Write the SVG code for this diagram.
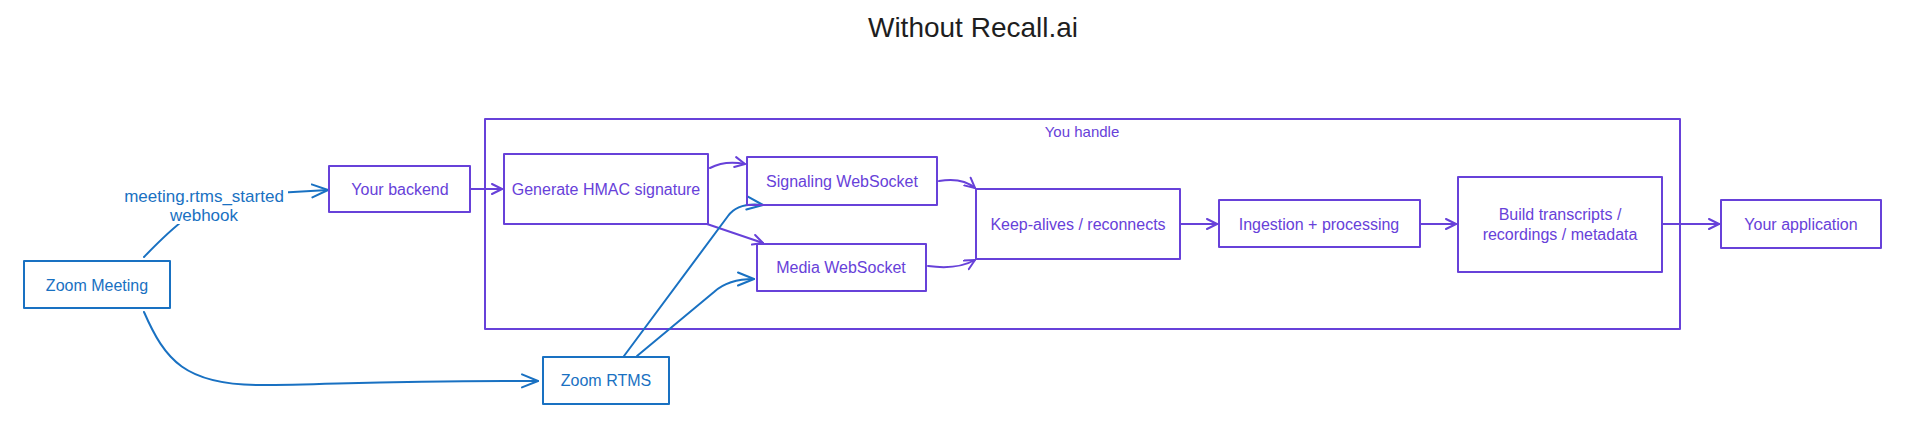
<svg xmlns="http://www.w3.org/2000/svg" width="1924" height="442" viewBox="0 0 1924 442">
<style>
.bg{fill:#ffffff}
.np{fill:none;stroke:#6741d9;stroke-width:2;stroke-linejoin:round}
.nb{fill:none;stroke:#1971c2;stroke-width:2;stroke-linejoin:round}
.tp{font-family:"Liberation Sans",Arial,sans-serif;font-size:16px;fill:#6741d9;text-anchor:middle;dominant-baseline:central}
.tb{font-family:"Liberation Sans",Arial,sans-serif;font-size:16px;fill:#1971c2;text-anchor:middle;dominant-baseline:central}
.cp{fill:none;stroke:#6741d9;stroke-width:2;stroke-linecap:round;stroke-linejoin:round}
.cb{fill:none;stroke:#1971c2;stroke-width:2;stroke-linecap:round;stroke-linejoin:round}
.title{font-family:"Liberation Sans",Arial,sans-serif;font-size:28px;fill:#1e1e1e;text-anchor:middle}
</style>
<defs>
<marker id="ap" markerUnits="userSpaceOnUse" markerWidth="14" markerHeight="14" refX="11" refY="6" orient="auto">
<path d="M1,1 L11,6 L1,11" fill="none" stroke="#6741d9" stroke-width="2" stroke-linecap="round" stroke-linejoin="round"/>
</marker>
<marker id="ab" markerUnits="userSpaceOnUse" markerWidth="20" markerHeight="16" refX="17" refY="8" orient="auto">
<path d="M1,1.5 L17,8 L1,14.5" fill="none" stroke="#1971c2" stroke-width="2" stroke-linecap="round" stroke-linejoin="round"/>
</marker>
</defs>
<rect class="bg" x="0" y="0" width="1924" height="442"/>
<text class="title" x="973" y="37">Without Recall.ai</text>

<g id="container">
<rect class="np" x="485" y="119" width="1195" height="210"/>
<text class="tp" x="1082" y="131" style="font-size:15px">You handle</text>
</g>

<g id="connectors">
<path class="cb" d="M144,257 C170,230 200,200 240,195 L328,190" marker-end="url(#ab)"/>
<path class="cb" d="M144,312 C165,360 185,385 260,385 C330,385 380,380 538,381" marker-end="url(#ab)"/>
<path class="cp" d="M471,189 L502,189" marker-end="url(#ap)"/>
<path class="cp" d="M710,168 Q725,160 745,164" marker-end="url(#ap)"/>
<path class="cp" d="M707,224 L763,243" marker-end="url(#ap)"/>
<path class="cp" d="M939,181 Q962,177 975,188" marker-end="url(#ap)"/>
<path class="cp" d="M928,266 Q957,270 975,260" marker-end="url(#ap)"/>
<path class="cp" d="M1181,224 L1217,224" marker-end="url(#ap)"/>
<path class="cp" d="M1421,224 L1456,224" marker-end="url(#ap)"/>
<path class="cp" d="M1663,224 L1719,224" marker-end="url(#ap)"/>
<path class="cb" d="M624,356 L728,216 Q738,202 763,205" marker-end="url(#ab)"/>
<path class="cb" d="M637,356 L714,292 Q728,279 754,279" marker-end="url(#ab)"/>
<rect class="bg" x="120" y="184" width="168" height="40"/>
<text class="tb" x="204" y="196" style="font-size:17px">meeting.rtms_started</text>
<text class="tb" x="204" y="215" style="font-size:17px">webhook</text>
</g>

<g id="zoom-meeting">
<rect class="nb" x="24" y="261" width="146" height="47"/>
<text class="tb" x="97" y="285">Zoom Meeting</text>
</g>
<g id="your-backend">
<rect class="np" x="329" y="166" width="141" height="46"/>
<text class="tp" x="400" y="189">Your backend</text>
</g>
<g id="generate-hmac">
<rect class="np" x="504" y="154" width="204" height="70"/>
<text class="tp" x="606" y="189">Generate HMAC signature</text>
</g>
<g id="signaling-ws">
<rect class="np" x="747" y="157" width="190" height="48"/>
<text class="tp" x="842" y="181">Signaling WebSocket</text>
</g>
<g id="media-ws">
<rect class="np" x="757" y="244" width="169" height="47"/>
<text class="tp" x="841" y="267">Media WebSocket</text>
</g>
<g id="keep-alives">
<rect class="np" x="976" y="189" width="204" height="70"/>
<text class="tp" x="1078" y="224">Keep-alives / reconnects</text>
</g>
<g id="ingestion">
<rect class="np" x="1219" y="200" width="201" height="47"/>
<text class="tp" x="1319" y="224">Ingestion + processing</text>
</g>
<g id="build">
<rect class="np" x="1458" y="177" width="204" height="95"/>
<text class="tp" x="1560" y="214">Build transcripts /</text>
<text class="tp" x="1560" y="234">recordings / metadata</text>
</g>
<g id="your-application">
<rect class="np" x="1721" y="200" width="160" height="48"/>
<text class="tp" x="1801" y="224">Your application</text>
</g>
<g id="zoom-rtms">
<rect class="nb" x="543" y="357" width="126" height="47"/>
<text class="tb" x="606" y="380">Zoom RTMS</text>
</g>
</svg>
